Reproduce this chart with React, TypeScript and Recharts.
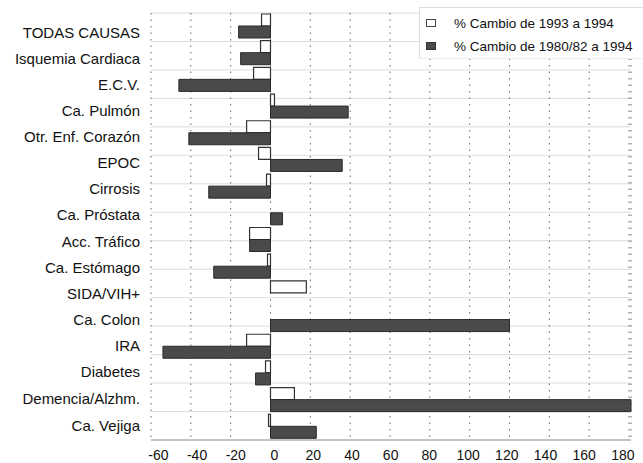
import React from 'react';
import { BarChart, Bar, XAxis, YAxis, CartesianGrid } from 'recharts';

const causes = [
  'TODAS CAUSAS',
  'Isquemia Cardiaca',
  'E.C.V.',
  'Ca. Pulmón',
  'Otr. Enf. Corazón',
  'EPOC',
  'Cirrosis',
  'Ca. Próstata',
  'Acc. Tráfico',
  'Ca. Estómago',
  'SIDA/VIH+',
  'Ca. Colon',
  'IRA',
  'Diabetes',
  'Demencia/Alzhm.',
  'Ca. Vejiga',
];

const change9394 = [-4.5, -5, -8.5, 2, -12, -6, -2, 0, -10.5, -1.5, 18, 0, -12, -2.5, 12, -1];
const change8094 = [-16, -15, -46, 39, -41, 36, -31, 6, -10.5, -28.5, 0, 120, -54, -7.5, 181, 23];

const xTicks = [-60, -40, -20, 0, 20, 40, 60, 80, 100, 120, 140, 160, 180];
const gridTicks = Array.from({ length: 17 }, (_, i) => i);

const data = causes.map((c, i) => ({
  cause: c,
  a: change9394[i],
  b: change8094[i],
}));

const font = 'Arial, "Liberation Sans", sans-serif';

// the scanned labels sit a little off the grid; nudge them to match
function CauseTick(props: any) {
  const { x, y, payload, index } = props;
  const dy = Math.max(-1.5, (10 - index) * 0.6);
  return (
    <text x={x} y={y + dy} textAnchor="end" dominantBaseline="central" fontSize={15} fill="#111" fontFamily={font}>
      {payload.value}
    </text>
  );
}

function ValueTick(props: any) {
  const { x, y, payload } = props;
  const dx = 4 - 0.056 * payload.value;
  return (
    <text x={x + dx} y={y + 19.5} textAnchor="middle" fontSize={14} fill="#111" fontFamily={font}>
      {payload.value}
    </text>
  );
}

export default function App() {
  return (
    <div style={{ position: 'absolute', left: 0, top: 0, width: 643, height: 463, background: '#fff', fontFamily: font }}>
      <BarChart
        width={643}
        height={463}
        data={data}
        layout="vertical"
        margin={{ top: 13, right: 12, bottom: 0, left: 0 }}
        barGap={0}
        barSize={12}
      >
        <CartesianGrid yAxisId="grid" vertical={false} stroke="#dcdcdc" />
        <CartesianGrid yAxisId="grid" horizontal={false} stroke="#666" strokeDasharray="1.5 5" />
        <XAxis
          type="number"
          domain={[-60, 180]}
          ticks={xTicks}
          interval={0}
          height={23}
          tickLine={false}
          tickSize={0}
          tickMargin={0}
          axisLine={{ stroke: '#999' }}
          tick={<ValueTick />}
        />
        <YAxis
          yAxisId="cat"
          type="category"
          dataKey="cause"
          width={151}
          tickLine={false}
          tickSize={0}
          axisLine={false}
          tickMargin={11}
          interval={0}
          tick={<CauseTick />}
        />
        <YAxis yAxisId="grid" type="number" domain={[0, 16]} ticks={gridTicks} hide />
        <Bar yAxisId="cat" dataKey="a" fill="#fff" stroke="#333" strokeWidth={1.2} isAnimationActive={false} />
        <Bar yAxisId="cat" dataKey="b" fill="#4a4a4a" stroke="#2a2a2a" strokeWidth={1} isAnimationActive={false} />
      </BarChart>
      <div
        style={{
          position: 'absolute',
          left: 419,
          top: 7,
          width: 224,
          height: 50,
          background: '#fff',
          borderLeft: '1px solid #ddd',
          borderTop: '1px solid #ddd',
          borderBottom: '1px solid #eee',
          fontSize: 13.5,
          color: '#111',
        }}
      >
        <div style={{ position: 'absolute', left: 6, top: 11, width: 8, height: 6, border: '1px solid #444', background: '#fff' }} />
        <div style={{ position: 'absolute', left: 34, top: 8 }}>% Cambio de 1993 a 1994</div>
        <div style={{ position: 'absolute', left: 6, top: 34, width: 8, height: 6, border: '1px solid #333', background: '#4a4a4a' }} />
        <div style={{ position: 'absolute', left: 34, top: 31 }}>% Cambio de 1980/82 a 1994</div>
      </div>
    </div>
  );
}
